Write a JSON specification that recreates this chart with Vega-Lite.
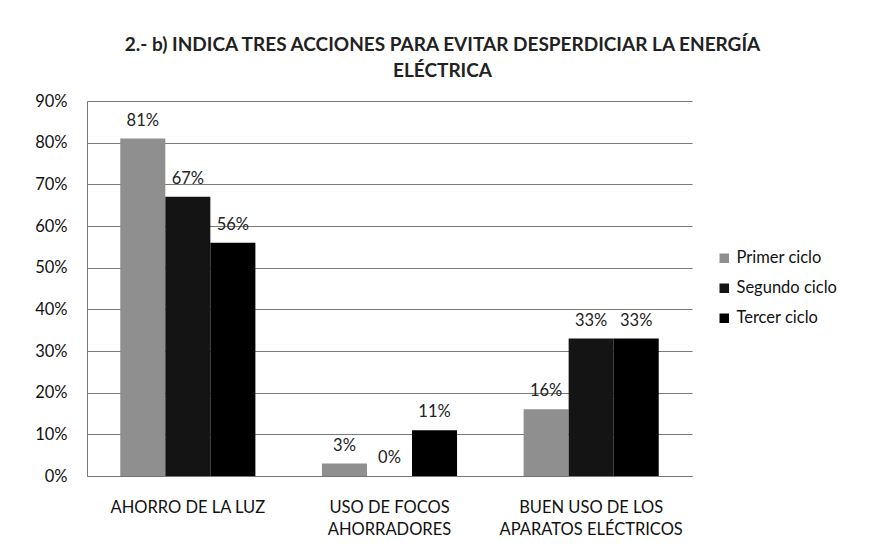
{
  "$schema": "https://vega.github.io/schema/vega-lite/v6.json",
  "width": 605,
  "height": 375,
  "autosize": {"type": "none"},
  "padding": {"left": 87, "top": 101, "right": 177, "bottom": 78},
  "background": "white",
  "title": {
    "text": ["2.- b) INDICA TRES ACCIONES PARA EVITAR DESPERDICIAR LA ENERGÍA", "ELÉCTRICA"],
    "font": "Lato",
    "fontSize": 19,
    "fontWeight": "bold",
    "color": "#222",
    "lineHeight": 26,
    "anchor": "middle",
    "frame": "group",
    "dx": 53,
    "offset": 12
  },
  "data": {
    "values": [
      {"accion": "AHORRO DE LA LUZ", "ciclo": "Primer  ciclo", "valor": 0.81},
      {"accion": "AHORRO DE LA LUZ", "ciclo": "Segundo ciclo", "valor": 0.67},
      {"accion": "AHORRO DE LA LUZ", "ciclo": "Tercer ciclo", "valor": 0.56},
      {"accion": "USO DE FOCOS AHORRADORES", "ciclo": "Primer  ciclo", "valor": 0.03},
      {"accion": "USO DE FOCOS AHORRADORES", "ciclo": "Segundo ciclo", "valor": 0.0},
      {"accion": "USO DE FOCOS AHORRADORES", "ciclo": "Tercer ciclo", "valor": 0.11},
      {"accion": "BUEN USO DE LOS APARATOS ELÉCTRICOS", "ciclo": "Primer  ciclo", "valor": 0.16},
      {"accion": "BUEN USO DE LOS APARATOS ELÉCTRICOS", "ciclo": "Segundo ciclo", "valor": 0.33},
      {"accion": "BUEN USO DE LOS APARATOS ELÉCTRICOS", "ciclo": "Tercer ciclo", "valor": 0.33}
    ]
  },
  "encoding": {
    "x": {
      "field": "accion",
      "type": "nominal",
      "sort": null,
      "title": null,
      "scale": {"paddingInner": 0.33, "paddingOuter": 0.165},
      "axis": {
        "labelAngle": 0,
        "labelFont": "Lato",
        "labelFontSize": 16.5,
        "labelColor": "#111",
        "labelPadding": 23,
        "labelLineHeight": 22,
        "labelLimit": 400,
        "ticks": false,
        "domainColor": "#777",
        "labelExpr": "datum.value == 'USO DE FOCOS AHORRADORES' ? ['USO DE FOCOS', 'AHORRADORES'] : datum.value == 'BUEN USO DE LOS APARATOS ELÉCTRICOS' ? ['BUEN USO DE LOS', 'APARATOS ELÉCTRICOS'] : datum.value"
      }
    },
    "xOffset": {"field": "ciclo", "type": "nominal", "sort": ["Primer  ciclo", "Segundo ciclo", "Tercer ciclo"], "scale": {"paddingInner": 0}},
    "y": {
      "field": "valor",
      "type": "quantitative",
      "title": null,
      "scale": {"domain": [0, 0.9]},
      "axis": {
        "format": ".0%",
        "values": [0, 0.1, 0.2, 0.3, 0.4, 0.5, 0.6, 0.7, 0.8, 0.9],
        "labelFont": "Lato",
        "labelFontSize": 16.5,
        "labelColor": "#111",
        "labelPadding": 20,
        "gridColor": "#7a7a7a",
        "domainColor": "#777",
        "ticks": false
      }
    }
  },
  "layer": [
    {
      "mark": {"type": "bar"},
      "encoding": {
        "color": {
          "field": "ciclo",
          "type": "nominal",
          "sort": ["Primer  ciclo", "Segundo ciclo", "Tercer ciclo"],
          "scale": {"domain": ["Primer  ciclo", "Segundo ciclo", "Tercer ciclo"], "range": ["#8f8f8f", "#141414", "#000000"]},
          "legend": {
            "title": null,
            "orient": "none",
            "legendX": 629,
            "legendY": 149,
            "symbolType": "square",
            "symbolSize": 90,
            "symbolStrokeWidth": 0,
            "labelFont": "Lato",
            "labelFontSize": 16.5,
            "labelColor": "#111",
            "rowPadding": 13,
            "labelOffset": 4
          }
        }
      }
    },
    {
      "mark": {"type": "text", "dy": -18, "font": "Lato", "fontSize": 16.5, "color": "#222"},
      "encoding": {
        "text": {"field": "valor", "type": "quantitative", "format": ".0%"}
      }
    }
  ],
  "config": {
    "view": {"stroke": null}
  }
}
